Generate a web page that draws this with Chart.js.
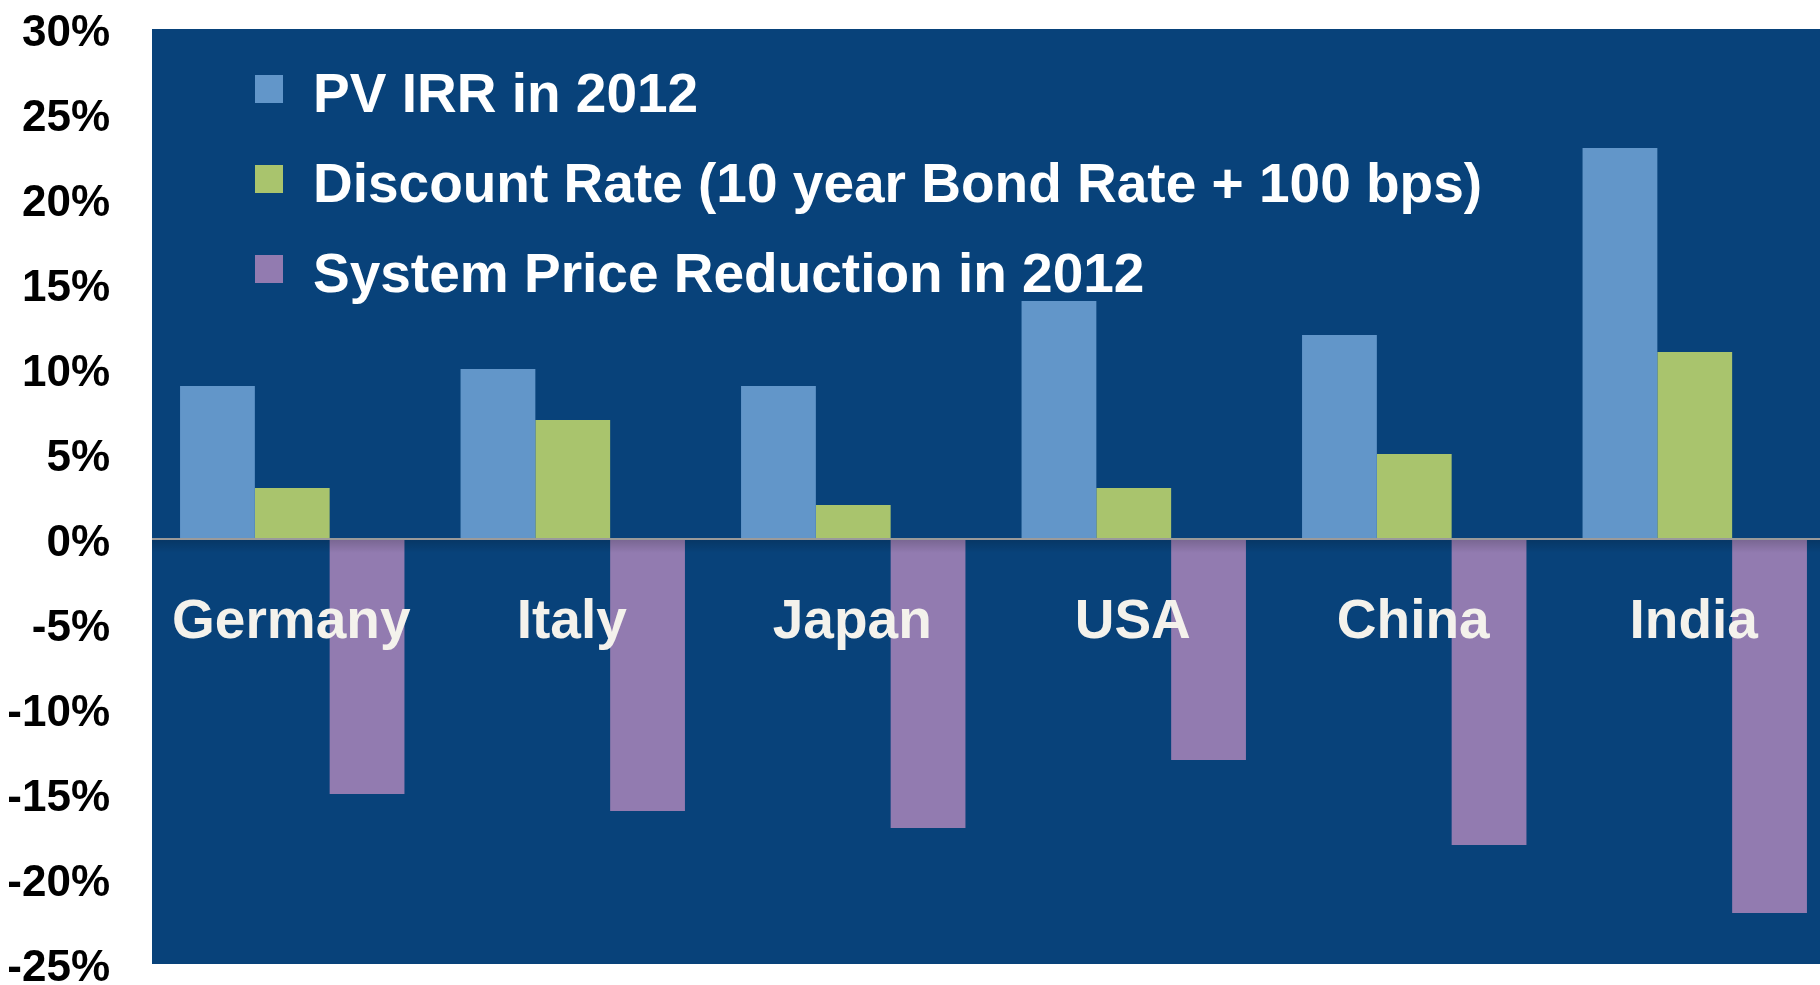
<!DOCTYPE html>
<html>
<head>
<meta charset="utf-8">
<script src="https://cdn.jsdelivr.net/npm/chart.js@4/dist/chart.umd.min.js"></script>
<style>
  html, body { margin: 0; padding: 0; background: #fff; overflow: hidden; }
  #chart { display: block; }
</style>
</head>
<body>
<canvas id="chart" width="1840" height="985"></canvas>
<script>
// values, in percent
var countries = ['Germany', 'Italy', 'Japan', 'USA', 'China', 'India'];
var pvIrr = [9, 10, 9, 14, 12, 23];
var discountRate = [3, 7, 2, 3, 5, 11];
var priceReduction = [-15, -16, -17, -13, -18, -22];
var seriesNames = [
    'PV IRR in 2012',
    'Discount Rate (10 year Bond Rate + 100 bps)',
    'System Price Reduction in 2012'
];
var seriesColors = ['#6296c9', '#a9c46d', '#927bb0'];

var FONT = '"Liberation Sans", Arial, sans-serif';
var PLOT_BG = '#08427a';

// dark plot panel + shadow under the zero line
var panelPlugin = {
    id: 'panel',
    beforeDraw: function (chart) {
        var a = chart.chartArea, ctx = chart.ctx;
        ctx.save();
        ctx.fillStyle = PLOT_BG;
        ctx.fillRect(a.left, a.top, a.right - a.left, a.bottom - a.top);
        ctx.restore();
    },
    afterDatasetsDraw: function (chart) {
        var a = chart.chartArea, ctx = chart.ctx;
        var y0 = chart.scales.y.getPixelForValue(0);
        ctx.save();
        var g = ctx.createLinearGradient(0, y0, 0, y0 + 14);
        g.addColorStop(0, 'rgba(0,0,0,0.18)');
        g.addColorStop(1, 'rgba(0,0,0,0)');
        ctx.fillStyle = g;
        ctx.fillRect(a.left, y0, a.right - a.left, 14);
        ctx.strokeStyle = '#9a9a9a';
        ctx.lineWidth = 2;
        ctx.beginPath();
        ctx.moveTo(a.left, y0);
        ctx.lineTo(a.right, y0);
        ctx.stroke();
        ctx.restore();
    }
};

// country names inside the plot, under the zero line
var categoryLabels = {
    id: 'categoryLabels',
    afterDatasetsDraw: function (chart) {
        var ctx = chart.ctx;
        var x = chart.scales.x, y = chart.scales.y;
        var yy = y.getPixelForValue(0) + 84;
        ctx.save();
        ctx.font = 'bold 55px ' + FONT;
        ctx.fillStyle = '#f4f2ec';
        ctx.textAlign = 'center';
        ctx.textBaseline = 'middle';
        countries.forEach(function (c, i) {
            ctx.fillText(c, x.getPixelForValue(i) - 1, yy);
        });
        ctx.restore();
    }
};

// stacked legend in the top-left of the plot
var stackedLegend = {
    id: 'stackedLegend',
    afterDraw: function (chart) {
        var ctx = chart.ctx;
        ctx.save();
        ctx.font = 'bold 55px ' + FONT;
        ctx.textBaseline = 'middle';
        ctx.textAlign = 'left';
        chart.data.datasets.forEach(function (ds, i) {
            var cy = 89 + i * 90;
            ctx.fillStyle = ds.backgroundColor;
            ctx.fillRect(255, cy - 14, 28, 28);
            ctx.fillStyle = '#ffffff';
            ctx.fillText(ds.label, 313, cy + 8);
        });
        ctx.restore();
    }
};

new Chart(document.getElementById('chart'), {
    type: 'bar',
    data: {
        labels: countries,
        datasets: [
            { label: seriesNames[0], data: pvIrr, backgroundColor: seriesColors[0] },
            { label: seriesNames[1], data: discountRate, backgroundColor: seriesColors[1] },
            { label: seriesNames[2], data: priceReduction, backgroundColor: seriesColors[2] }
        ]
    },
    options: {
        responsive: false,
        animation: false,
        devicePixelRatio: 1,
        layout: { padding: { top: 29, right: 5, bottom: 21, left: 0 } },
        datasets: {
            bar: { categoryPercentage: 0.8, barPercentage: 1.0, borderWidth: 0 }
        },
        plugins: {
            legend: { display: false },
            tooltip: { enabled: false }
        },
        scales: {
            x: { display: false },
            y: {
                min: -25,
                max: 30,
                border: { display: false },
                grid: { display: false, drawTicks: false },
                afterFit: function (scale) {
                    scale.width = 152;
                    scale.paddingTop = 0;
                    scale.paddingBottom = 0;
                },
                ticks: {
                    stepSize: 5,
                    padding: 42,
                    labelOffset: 5,
                    color: '#000000',
                    font: { family: FONT, size: 44, weight: 'bold' },
                    callback: function (v) { return v + '%'; }
                }
            }
        }
    },
    plugins: [panelPlugin, categoryLabels, stackedLegend]
});
</script>
</body>
</html>
